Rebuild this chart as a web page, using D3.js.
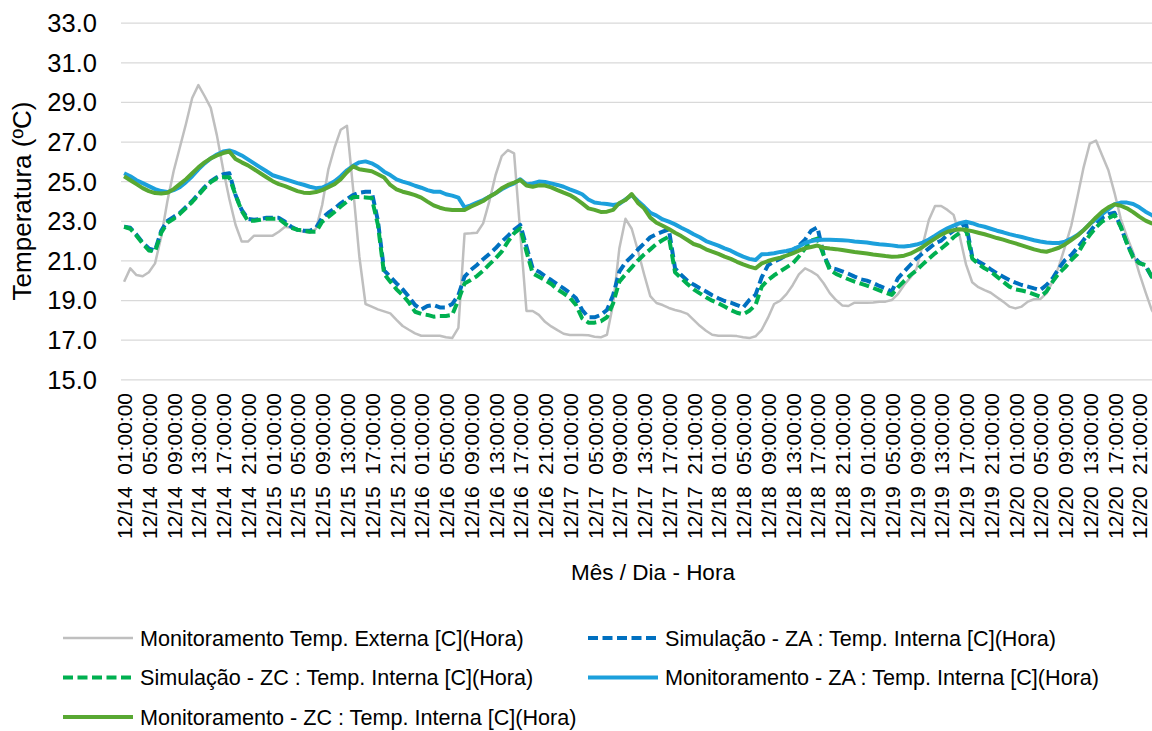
<!DOCTYPE html>
<html>
<head>
<meta charset="utf-8">
<script src="https://cdn.jsdelivr.net/npm/d3@7"></script>
<style>
  body { margin: 0; background: #fff; }
  svg { display: block; font-family: "Liberation Sans", Arial, sans-serif; }
</style>
</head>
<body>
<div id="chart"></div>
<script>
// categories: one point per hour, 12/14 01:00 .. 12/21 00:00
const days = ["12/14", "12/15", "12/16", "12/17", "12/18", "12/19", "12/20", "12/21"];
const firstHour = 1;
const hourCount = 168;
const labelStep = 4;
const yTicks = [15, 17, 19, 21, 23, 25, 27, 29, 31, 33];

// Monitoramento Temp. Externa
const extTemp = [
  19.92, 20.60, 20.26, 20.20, 20.40, 20.85, 22.20, 24.00, 25.50, 26.70, 27.90, 29.20, 29.85, 29.30, 28.70, 27.30, 25.60, 24.10, 22.80, 21.95, 21.95, 22.25, 22.25, 22.25,
  22.25, 22.45, 22.70, 22.65, 22.53, 22.45, 22.40, 22.60, 23.80, 25.60, 26.70, 27.60, 27.80, 24.60, 21.20, 18.80, 18.67, 18.53, 18.43, 18.33, 18.00, 17.69, 17.50, 17.32,
  17.20, 17.20, 17.20, 17.20, 17.12, 17.08, 17.60, 22.35, 22.37, 22.40, 22.87, 23.98, 25.30, 26.26, 26.57, 26.40, 22.40, 18.45, 18.45, 18.25, 17.90, 17.67, 17.48, 17.30,
  17.24, 17.24, 17.24, 17.22, 17.15, 17.12, 17.25, 18.80, 21.60, 23.10, 22.60, 21.50, 20.30, 19.20, 18.85, 18.75, 18.60, 18.50, 18.42, 18.30, 18.00, 17.70, 17.45, 17.25,
  17.20, 17.20, 17.20, 17.18, 17.12, 17.08, 17.17, 17.50, 18.10, 18.80, 18.97, 19.30, 19.75, 20.30, 20.60, 20.45, 20.25, 19.85, 19.35, 19.00, 18.73, 18.70, 18.87, 18.87,
  18.87, 18.88, 18.92, 18.92, 19.00, 19.30, 19.76, 20.13, 20.58, 21.78, 23.04, 23.75, 23.75, 23.55, 23.30, 22.20, 20.80, 19.90, 19.65, 19.50, 19.37, 19.14, 18.92, 18.67,
  18.58, 18.67, 18.92, 19.04, 19.05, 19.34, 19.93, 20.70, 21.70, 22.75, 24.20, 25.70, 26.90, 27.05, 26.30, 25.55, 24.40, 23.10, 22.20, 21.40, 20.35, 19.40, 18.50, 18.00
];

// Simulação - ZA
const simZA = [
  22.70, 22.65, 22.30, 21.90, 21.60, 21.50, 22.50, 23.00, 23.20, 23.40, 23.70, 24.00, 24.35, 24.70, 25.00, 25.20, 25.35, 25.40, 24.30, 23.55, 23.10, 23.05, 23.10, 23.15,
  23.15, 23.15, 22.95, 22.70, 22.55, 22.50, 22.50, 22.65, 23.15, 23.41, 23.61, 23.88, 24.10, 24.30, 24.42, 24.47, 24.47, 23.00, 20.50, 20.18, 19.84, 19.54, 19.17, 18.75,
  18.53, 18.70, 18.75, 18.63, 18.63, 18.80, 19.25, 20.18, 20.52, 20.77, 21.06, 21.33, 21.61, 21.95, 22.24, 22.54, 22.79, 21.70, 20.60, 20.43, 20.21, 20.01, 19.79, 19.59,
  19.37, 19.09, 18.50, 18.13, 18.13, 18.25, 18.50, 19.25, 20.43, 20.90, 21.20, 21.55, 21.86, 22.17, 22.33, 22.45, 22.57, 20.60, 20.26, 19.98, 19.78, 19.60, 19.43, 19.24,
  19.09, 18.95, 18.87, 18.75, 18.62, 19.00, 19.26, 20.15, 20.75, 20.94, 21.09, 21.27, 21.49, 21.75, 22.05, 22.50, 22.67, 21.30, 20.63, 20.56, 20.45, 20.33, 20.18, 20.05,
  19.98, 19.86, 19.71, 19.59, 19.43, 20.10, 20.43, 20.77, 21.10, 21.36, 21.61, 21.86, 22.00, 22.28, 22.50, 22.67, 22.85, 21.20, 20.94, 20.77, 20.55, 20.35, 20.18, 20.01,
  19.88, 19.76, 19.68, 19.59, 19.51, 19.76, 20.10, 20.60, 21.02, 21.27, 21.64, 22.03, 22.45, 22.84, 23.16, 23.33, 23.41, 22.70, 21.86, 21.22, 20.89, 20.72, 20.18, 20.00
];

// Simulação - ZC
const simZC = [
  22.70, 22.60, 22.25, 21.85, 21.50, 21.45, 22.40, 22.90, 23.10, 23.35, 23.65, 23.95, 24.30, 24.65, 24.95, 25.15, 25.20, 25.20, 24.30, 23.50, 23.00, 23.00, 23.05, 23.10,
  23.10, 23.10, 22.85, 22.65, 22.55, 22.50, 22.45, 22.45, 22.95, 23.20, 23.45, 23.72, 23.97, 24.20, 24.20, 24.18, 24.15, 22.80, 20.32, 19.93, 19.54, 19.25, 18.88, 18.41,
  18.30, 18.25, 18.16, 18.20, 18.20, 18.25, 19.00, 19.84, 20.01, 20.21, 20.48, 20.80, 21.10, 21.44, 21.95, 22.37, 22.62, 21.44, 20.35, 20.18, 20.01, 19.81, 19.54, 19.34,
  19.12, 18.75, 18.08, 17.86, 17.86, 17.93, 18.13, 18.84, 19.93, 20.30, 20.65, 21.00, 21.30, 21.56, 21.83, 22.03, 22.20, 20.40, 20.10, 19.81, 19.54, 19.34, 19.14, 18.97,
  18.84, 18.67, 18.50, 18.36, 18.28, 18.46, 18.75, 19.68, 20.01, 20.25, 20.45, 20.65, 20.85, 21.20, 21.60, 22.00, 22.10, 21.27, 20.52, 20.32, 20.18, 20.05, 19.93, 19.83,
  19.73, 19.61, 19.49, 19.37, 19.26, 19.64, 19.96, 20.25, 20.50, 20.80, 21.09, 21.36, 21.60, 21.86, 22.17, 22.40, 22.57, 21.10, 20.82, 20.60, 20.43, 20.18, 19.93, 19.68,
  19.54, 19.48, 19.41, 19.29, 19.17, 19.43, 19.93, 20.35, 20.65, 21.02, 21.32, 21.86, 22.28, 22.67, 22.96, 23.13, 23.29, 22.70, 21.86, 21.14, 20.85, 20.77, 20.18, 20.00
];

// Monitoramento - ZA
const monZA = [
  25.40, 25.25, 25.05, 24.90, 24.75, 24.60, 24.50, 24.45, 24.55, 24.70, 24.95, 25.25, 25.60, 25.90, 26.15, 26.35, 26.50, 26.55, 26.45, 26.30, 26.10, 25.90, 25.70, 25.50,
  25.30, 25.20, 25.10, 25.00, 24.90, 24.82, 24.72, 24.65, 24.68, 24.82, 25.00, 25.25, 25.55, 25.78, 25.95, 26.00, 25.90, 25.73, 25.48, 25.31, 25.09, 24.98, 24.89, 24.77,
  24.67, 24.55, 24.47, 24.47, 24.34, 24.27, 24.17, 23.68, 23.78, 23.92, 24.05, 24.22, 24.39, 24.59, 24.76, 24.89, 25.10, 24.84, 24.89, 24.98, 24.96, 24.89, 24.81, 24.72,
  24.59, 24.47, 24.34, 24.08, 23.92, 23.88, 23.85, 23.80, 23.85, 24.08, 24.30, 24.00, 23.72, 23.41, 23.26, 23.07, 22.96, 22.82, 22.65, 22.50, 22.32, 22.17, 21.98, 21.86,
  21.75, 21.61, 21.49, 21.33, 21.19, 21.08, 21.02, 21.31, 21.33, 21.36, 21.43, 21.48, 21.56, 21.70, 21.88, 21.98, 22.03, 22.04, 22.04, 22.03, 22.02, 22.00, 21.96, 21.93,
  21.90, 21.86, 21.82, 21.79, 21.76, 21.72, 21.70, 21.74, 21.80, 21.90, 22.06, 22.25, 22.45, 22.62, 22.76, 22.88, 22.95, 22.88, 22.77, 22.70, 22.60, 22.50, 22.42, 22.33,
  22.25, 22.18, 22.10, 22.02, 21.96, 21.91, 21.88, 21.88, 21.95, 22.10, 22.28, 22.53, 22.84, 23.07, 23.34, 23.58, 23.83, 23.92, 23.92, 23.85, 23.68, 23.46, 23.29, 23.15
];

// Monitoramento - ZC
const monZC = [
  25.25, 25.05, 24.85, 24.65, 24.50, 24.40, 24.38, 24.42, 24.60, 24.85, 25.10, 25.40, 25.70, 25.95, 26.15, 26.30, 26.42, 26.50, 26.12, 25.95, 25.80, 25.60, 25.40, 25.20,
  25.00, 24.85, 24.75, 24.62, 24.50, 24.42, 24.40, 24.45, 24.55, 24.70, 24.85, 25.10, 25.45, 25.75, 25.60, 25.55, 25.50, 25.35, 25.19, 24.81, 24.59, 24.47, 24.39, 24.30,
  24.17, 23.97, 23.78, 23.66, 23.58, 23.55, 23.55, 23.55, 23.71, 23.85, 24.00, 24.22, 24.39, 24.64, 24.81, 24.93, 25.06, 24.78, 24.72, 24.79, 24.78, 24.69, 24.55, 24.42,
  24.30, 24.11, 23.88, 23.63, 23.55, 23.45, 23.46, 23.55, 23.90, 24.05, 24.35, 23.90, 23.63, 23.16, 22.90, 22.75, 22.59, 22.40, 22.23, 22.03, 21.83, 21.73, 21.56, 21.44,
  21.33, 21.19, 21.08, 20.93, 20.80, 20.69, 20.60, 20.85, 20.97, 21.06, 21.14, 21.24, 21.36, 21.49, 21.61, 21.68, 21.75, 21.64, 21.60, 21.57, 21.53, 21.48, 21.43, 21.39,
  21.35, 21.30, 21.26, 21.22, 21.19, 21.20, 21.24, 21.34, 21.50, 21.68, 21.90, 22.10, 22.30, 22.45, 22.53, 22.57, 22.54, 22.48, 22.40, 22.32, 22.23, 22.13, 22.05, 21.95,
  21.86, 21.76, 21.66, 21.56, 21.48, 21.44, 21.53, 21.64, 21.81, 22.03, 22.25, 22.53, 22.84, 23.17, 23.46, 23.68, 23.83, 23.76, 23.63, 23.44, 23.21, 23.01, 22.87, 22.80
];

// category labels "12/14  01:00:00"
const categories = d3.range(hourCount).map(i => {
  const h = firstHour + i;
  return days[Math.floor(h / 24)] + "  " + String(h % 24).padStart(2, "0") + ":00:00";
});

// series in drawing (and legend) order
const series = [
  { name: "Monitoramento Temp. Externa [C](Hora)", values: extTemp, color: "#bfbfbf", width: 2.5, dash: null },
  { name: "Simulação - ZA : Temp. Interna [C](Hora)", values: simZA, color: "#0070c0", width: 4, dash: "10,4.5" },
  { name: "Simulação - ZC : Temp. Interna [C](Hora)", values: simZC, color: "#00b050", width: 4, dash: "10,4.5" },
  { name: "Monitoramento - ZA : Temp. Interna [C](Hora)", values: monZA, color: "#1ca0dc", width: 4, dash: null },
  { name: "Monitoramento - ZC : Temp. Interna [C](Hora)", values: monZC, color: "#58a832", width: 4, dash: null }
];

// setup
const chart = {
  width: 1152,
  height: 731,
  margin: { top: 22.7, left: 121 }
};
chart.plotW = 1040;
chart.plotH = 356.6;

chart.x = d3.scalePoint().domain(d3.range(hourCount)).range([0, chart.plotW]).padding(0.5);
chart.y = d3.scaleLinear().domain([15, 33]).range([chart.plotH, 0]);

const svg = d3.select("#chart").append("svg")
  .attr("width", chart.width)
  .attr("height", chart.height);

const g = svg.append("g")
  .attr("transform", "translate(" + chart.margin.left + "," + chart.margin.top + ")");

// y gridlines + tick labels
g.append("g")
  .attr("class", "y axis")
  .attr("font-size", null)
  .attr("font-family", null)
  .call(d3.axisLeft(chart.y)
    .tickValues(yTicks)
    .tickFormat(d3.format(".1f"))
    .tickSize(-chart.plotW)
    .tickPadding(24))
  .call(a => a.select(".domain").remove())
  .call(a => a.selectAll("line").attr("stroke", "#d9d9d9").attr("stroke-width", 1.3))
  .call(a => a.selectAll("text").attr("fill", "#000").attr("font-size", 25.5).attr("dy", "0.35em"));

// x tick labels, rotated
g.append("g")
  .attr("class", "x axis")
  .attr("transform", "translate(0," + chart.plotH + ")")
  .attr("font-size", null)
  .attr("font-family", null)
  .call(d3.axisBottom(chart.x)
    .tickValues(d3.range(0, hourCount, labelStep))
    .tickFormat(i => categories[i])
    .tickSize(0))
  .call(a => a.select(".domain").remove())
  .call(a => a.selectAll("text")
    .attr("fill", "#000")
    .attr("font-size", 21)
    .style("white-space", "pre")
    .attr("transform", "rotate(-90)")
    .attr("text-anchor", "end")
    .attr("x", -13.7)
    .attr("y", 0)
    .attr("dy", "0.36em"));

// lines
const line = d3.line()
  .x((d, i) => chart.x(i))
  .y(d => chart.y(d));

series.forEach(s => {
  g.append("path")
    .datum(s.values)
    .attr("fill", "none")
    .attr("stroke", s.color)
    .attr("stroke-width", s.width)
    .attr("stroke-linejoin", "round")
    .attr("stroke-dasharray", s.dash)
    .attr("d", line);
});

// axis titles
svg.append("text")
  .attr("transform", "translate(653,580)")
  .attr("text-anchor", "middle")
  .attr("font-size", 22.5)
  .text("Mês / Dia - Hora");

svg.append("text")
  .attr("transform", "translate(31," + (chart.margin.top + chart.plotH / 2) + ") rotate(-90)")
  .attr("text-anchor", "middle")
  .attr("font-size", 26)
  .text("Temperatura (ºC)");

// legend: two columns, filled row by row
const legendCols = [63, 588];
const legendRows = [638, 677.5, 717];

const legend = svg.append("g").attr("class", "legend");
series.forEach((s, k) => {
  const lx = legendCols[k % 2];
  const ly = legendRows[Math.floor(k / 2)];
  legend.append("line")
    .attr("x1", lx).attr("x2", lx + 70)
    .attr("y1", ly).attr("y2", ly)
    .attr("stroke", s.color)
    .attr("stroke-width", s.width)
    .attr("stroke-dasharray", s.dash);
  legend.append("text")
    .attr("x", lx + 77)
    .attr("y", ly)
    .attr("dy", "0.36em")
    .attr("font-size", 21.6)
    .text(s.name);
});
</script>
</body>
</html>
